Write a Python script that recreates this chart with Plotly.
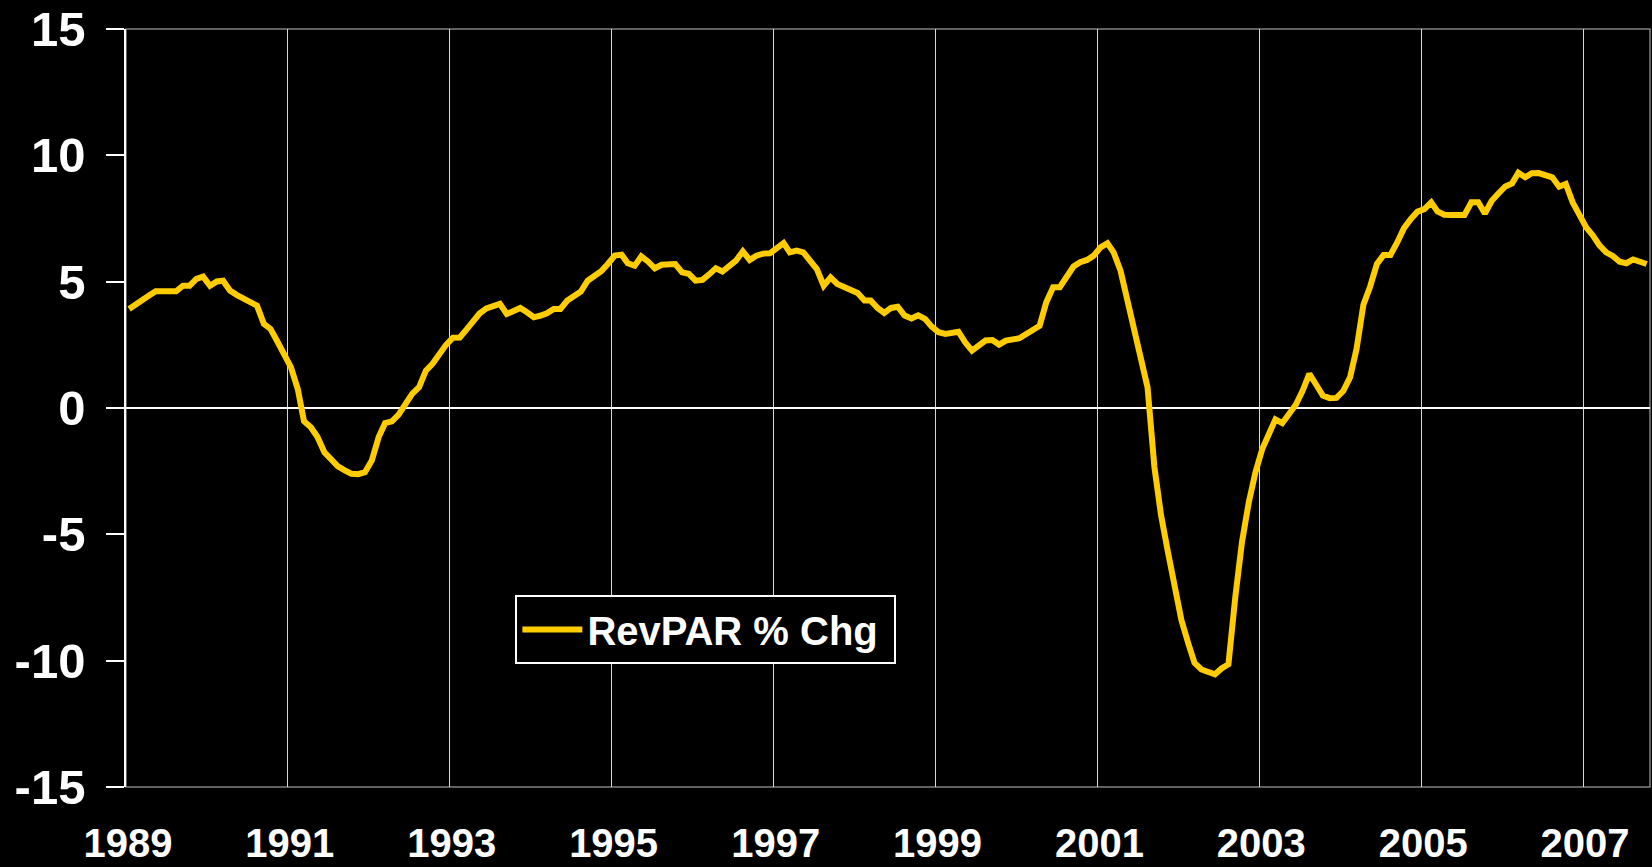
import pandas as pd
import plotly.graph_objects as go

# Monthly RevPAR % change, Jan 1989 - Oct 2007
revpar_chg = [
    3.92, 4.12, 4.25, 4.45, 4.62, 4.62, 4.62, 4.62, 4.84, 4.84, 5.11, 5.20,
    4.84, 5.01, 5.04, 4.65, 4.48, 4.33, 4.21, 4.05, 3.33, 3.13, 2.63, 2.14,
    1.62, 0.75, -0.52, -0.76, -1.15, -1.75, -2.05, -2.31, -2.47, -2.60, -2.62, -2.54,
    -2.08, -1.15, -0.60, -0.53, -0.26, 0.14, 0.56, 0.82, 1.48, 1.75, 2.18, 2.50,
    2.78, 2.79, 3.08, 3.44, 3.74, 3.94, 4.05, 4.12, 3.72, 3.83, 3.96, 3.79,
    3.59, 3.66, 3.75, 3.92, 3.92, 4.25, 4.41, 4.61, 5.04, 5.24, 5.41, 5.70,
    6.03, 6.07, 5.73, 5.63, 6.00, 5.79, 5.53, 5.67, 5.70, 5.70, 5.37, 5.31,
    5.04, 5.07, 5.28, 5.53, 5.40, 5.63, 5.83, 6.20, 5.86, 6.03, 6.11, 6.12,
    6.36, 6.53, 6.16, 6.23, 6.16, 5.86, 5.50, 4.84, 5.17, 4.91, 4.78, 4.71,
    4.55, 4.25, 4.25, 3.96, 3.76, 3.96, 4.01, 3.66, 3.54, 3.67, 3.53, 3.22,
    3.00, 2.93, 3.00, 3.02, 2.60, 2.27, 2.47, 2.67, 2.69, 2.51, 2.67, 2.69,
    2.76, 2.93, 3.09, 3.25, 4.18, 4.78, 4.78, 5.24, 5.60, 5.77, 5.86, 6.03,
    6.36, 6.52, 6.16, 5.44, 4.32, 3.26, 2.08, 0.82, -2.34, -4.25, -5.70, -7.15,
    -8.40, -9.32, -10.09, -10.35, -10.42, -10.54, -10.31, -10.14, -7.48, -5.31, -3.72, -2.54,
    -1.61, -0.95, -0.45, -0.60, -0.19, 0.13, 0.67, 1.35, 0.92, 0.49, 0.39, 0.40,
    0.67, 1.22, 2.34, 4.09, 4.80, 5.70, 6.06, 6.06, 6.56, 7.12, 7.48, 7.77,
    7.87, 8.14, 7.78, 7.65, 7.64, 7.64, 7.64, 8.14, 8.14, 7.70, 8.20, 8.49,
    8.77, 8.89, 9.31, 9.13, 9.29, 9.30, 9.23, 9.13, 8.76, 8.87, 8.14, 7.68,
    7.15, 6.82, 6.45, 6.16, 6.02, 5.79, 5.73, 5.88, 5.80, 5.70,
]
start_month = "1989-01-01"
months = pd.date_range(start_month, periods=len(revpar_chg), freq="MS") + pd.Timedelta(days=14)

tick_years = ["1989", "1991", "1993", "1995", "1997", "1999", "2001", "2003", "2005", "2007"]
y_ticks = [-15, -10, -5, 0, 5, 10, 15]
y_ticktext = ["-15", "-10", "-5", "0", "5", "10", "15"]
series_name = "RevPAR % Chg\u00a0"

FONT = "Arial, 'Liberation Sans', sans-serif"

fig = go.Figure()
fig.add_trace(go.Scatter(
    x=months, y=revpar_chg, mode="lines", name=series_name,
    line=dict(color="#FFCC00", width=6),
))

fig.update_layout(
    width=1652, height=867, autosize=False,
    paper_bgcolor="black", plot_bgcolor="black",
    margin=dict(l=126, r=2, t=29, b=80, pad=0, autoexpand=False),
    showlegend=True,
    legend=dict(
        x=0.2555, y=0.2078, xanchor="left", yanchor="middle",
        bgcolor="black", bordercolor="white", borderwidth=2,
        font=dict(family=FONT, size=40, color="white", weight="bold"),
        itemwidth=60,
    ),
    shapes=[dict(type="rect", xref="x domain", yref="y domain", x0=0, x1=1, y0=0, y1=1,
                 line=dict(color="#808080", width=1.5), layer="below")],
)

fig.update_xaxes(
    type="date",
    range=["1989-01-01", "2007-10-30"],
    tickvals=[pd.Timestamp(f"{y}-01-01") for y in tick_years],
    ticktext=tick_years,
    showgrid=True, gridcolor="#d8d8d8", gridwidth=1.3,
    ticks="", showline=False, zeroline=False,
    tickfont=dict(family=FONT, size=40, color="white", weight="bold"),
    ticklabelstandoff=29,
    ticklabelshift=2,
    automargin=False,
)
fig.update_yaxes(
    range=[-15, 15],
    tickvals=y_ticks,
    ticktext=y_ticktext,
    showgrid=False,
    zeroline=True, zerolinecolor="white", zerolinewidth=1.8,
    showline=True, linecolor="white", linewidth=1.5,
    ticks="outside", ticklen=18, tickcolor="white", tickwidth=1.5,
    tickfont=dict(family=FONT, size=49, color="white", weight="bold"),
    ticklabelstandoff=11,
    automargin=False,
)

fig.write_html(
    "out.html",
    config={"displayModeBar": False},
    post_script="document.body.style.margin='0';document.body.style.overflow='hidden';",
)
